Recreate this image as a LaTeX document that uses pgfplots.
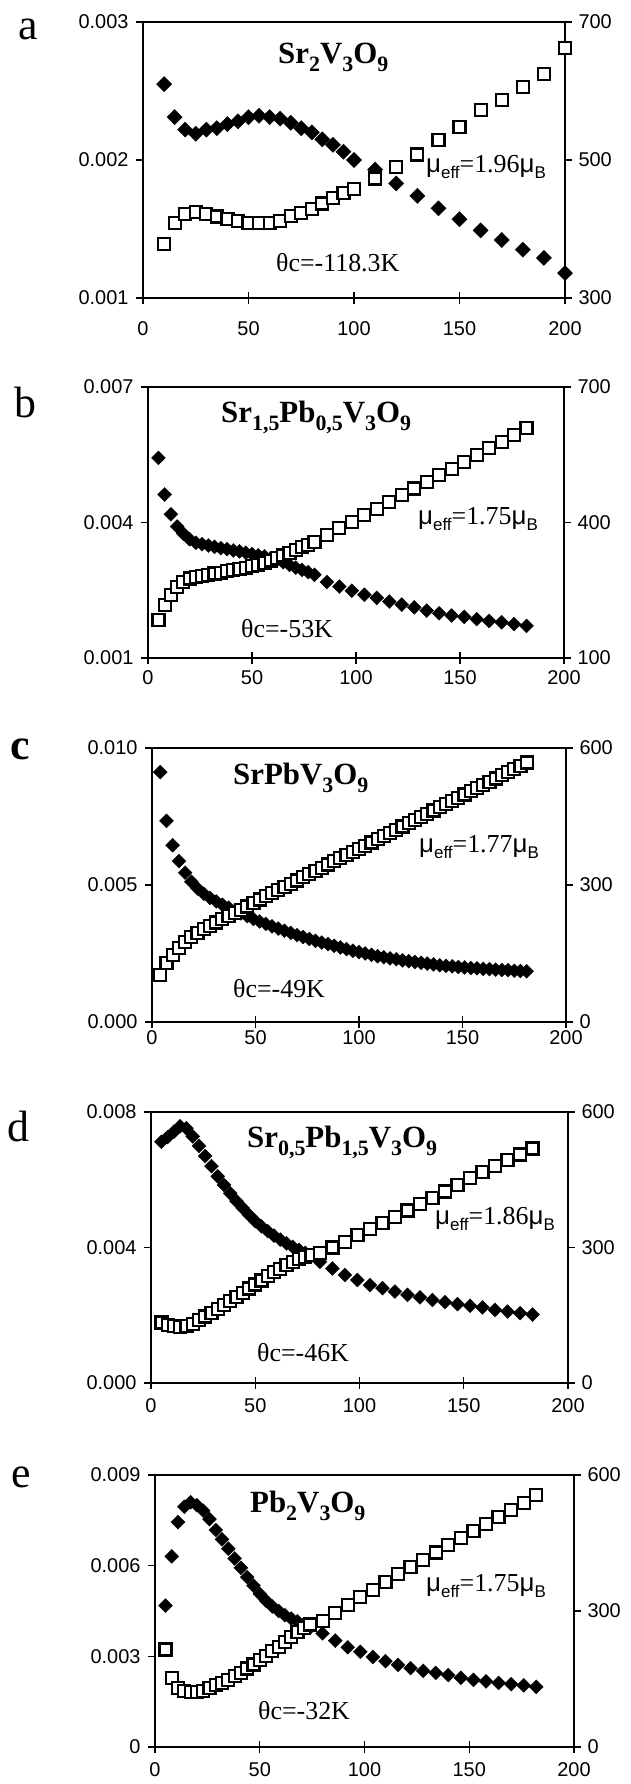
\documentclass[border=0pt]{standalone}
\usepackage{fontspec}
\setmainfont{Liberation Serif}
\newfontfamily\arial{Liberation Sans}
\usepackage{pgfplots}
\pgfplotsset{compat=1.18}

\pgfplotsset{
  panel/.style={scale only axis, clip=false, xmin=0, xmax=200,
    axis line style={line width=2.2bp, black},
    every tick/.style={line width=1.1bp, black},
    major tick length=7bp,
    tick align=outside,
    scaled y ticks=false, scaled x ticks=false,
    xtick={0,50,100,150,200}, xticklabels={0,50,100,150,200},
    tick label style={font=\arial\fontsize{20}{20}\selectfont},
    /pgf/number format/assume math mode=true,
  },
  leftax/.style={panel, xtick pos=bottom, ytick pos=left, xtick align=center,
    xtick style={/pgfplots/major tick length=12bp},
    yticklabel style={xshift=-4bp}},
  rightax/.style={panel, xtick=\empty, ytick pos=right, yticklabel pos=right,
    yticklabel style={xshift=3bp}},
  chi/.style={only marks, mark=square*, mark size=4.95bp,
    mark options={rotate=45, fill=black, draw=black, line width=0.3bp}},
  inv/.style={only marks, mark=square*, mark size=6bp,
    mark options={fill=white, draw=black, line width=2.2bp}},
}
\newcommand{\ttl}{\fontsize{31}{31}\selectfont\bfseries}
\newcommand{\sbb}[1]{\raisebox{-0.25em}{\fontsize{22}{22}\selectfont #1}}
\newcommand{\lab}{\fontsize{26}{26}\selectfont}
\newcommand{\mueff}[1]{{\lab{\arial μ}\raisebox{-0.22em}{\arial\fontsize{17}{17}\selectfont eff}=#1{\arial μ}\raisebox{-0.22em}{\arial\fontsize{17}{17}\selectfont B}}}
\newcommand{\panl}{\fontsize{44}{44}\selectfont}

\begin{document}
\begin{tikzpicture}[x=1bp,y=1bp]
\path[use as bounding box] (0,0) rectangle (631,1784);

% ---------------- panel a ----------------
\begin{axis}[leftax, at={(143bp,1486bp)}, anchor=south west, width=422bp, height=276bp,
  ymin=0.001, ymax=0.003, ytick={0.001,0.002,0.003}, yticklabels={0.001,0.002,0.003},
  xticklabel style={yshift=-17bp}]
\addplot[chi, mark size=5.4bp] coordinates {
(10,0.00255)(15,0.00231)(20,0.00222)(25,0.00219)(30,0.00222)(35,0.00223)(40,0.00226)
(45,0.00228)(50,0.00231)(55,0.00232)(60,0.00231)(65,0.00230)(70,0.00227)(75,0.00223)
(80,0.00220)(85,0.00215)(90,0.00211)(95,0.00206)(100,0.00200)(110,0.00193)(120,0.00183)
(130,0.00174)(140,0.00165)(150,0.00157)(160,0.00149)(170,0.00142)(180,0.00135)
(190,0.00129)(200,0.00118)};
\end{axis}
\begin{axis}[rightax, at={(143bp,1486bp)}, anchor=south west, width=422bp, height=276bp,
  ymin=300, ymax=700, ytick={300,500,700}, yticklabels={300,500,700}]
\addplot[inv] coordinates {
(10,378)(15,409)(20,422)(25,425)(30,422)(35,418)(40,414)(45,412)(50,409)(55,409)
(60,409)(65,412)(70,419)(75,423)(80,429)(85,437)(90,445)(95,452)(100,458)(110,473)
(120,490)(130,508)(140,529)(150,548)(160,572)(170,587)(180,606)(190,625)(200,662)};
\end{axis}

% ---------------- panel b ----------------
\begin{axis}[leftax, at={(148bp,1126bp)}, anchor=south west, width=416bp, height=271bp,
  ymin=0.001, ymax=0.007, ytick={0.001,0.004,0.007}, yticklabels={0.001,0.004,0.007},
  xticklabel style={yshift=-6bp}]
\addplot[chi] coordinates {
(5,0.00543)(8,0.00462)(11,0.00418)(14,0.00391)(17,0.00375)(20,0.00363)(23,0.00355)
(26,0.00352)(29,0.00349)(32,0.00346)(35,0.00343)(38,0.00341)(41,0.00338)(44,0.00336)
(47,0.00333)(50,0.00330)(53,0.00327)(56,0.00325)(59,0.00321)(62,0.00317)(65,0.00312)
(68,0.00306)(71,0.00300)(74,0.00295)(77,0.00290)
(80,0.00284)(86,0.00268)(92,0.00258)(98,0.00249)(104,0.00240)(110,0.00233)(116,0.00225)
(122,0.00218)(128,0.00212)(134,0.00205)(140,0.00199)(146,0.00194)(152,0.00191)
(158,0.00186)(164,0.00182)(170,0.00179)(176,0.00175)(182,0.00171)};
\end{axis}
\begin{axis}[rightax, at={(148bp,1126bp)}, anchor=south west, width=416bp, height=271bp,
  ymin=100, ymax=700, ytick={100,400,700}, yticklabels={100,400,700}]
\addplot[inv] coordinates {
(5,184)(8,217)(11,239)(14,257)(17,268)(20,276)(23,279)(26,281)(29,284)(32,287)(35,289)
(38,292)(41,294)(44,297)(47,300)(50,303)(53,306)(56,311)(59,316)(62,321)(65,327)(68,333)
(71,339)(74,345)(77,351)
(80,357)(86,372)(92,387)(98,401)(104,416)(110,430)(116,445)(122,460)(128,475)(134,490)
(140,505)(146,519)(152,534)(158,549)(164,564)(170,579)(176,594)(182,609)};
\end{axis}

% ---------------- panel c ----------------
\begin{axis}[leftax, at={(152bp,762bp)}, anchor=south west, width=414bp, height=274bp,
  ymin=0, ymax=0.010, ytick={0,0.005,0.010}, yticklabels={0.000,0.005,0.010},
  xticklabel style={yshift=-2bp}]
\addplot[chi] coordinates {
(4,0.00912)(7,0.00734)(10,0.00645)(13,0.00587)(16,0.00545)(19,0.00512)(22,0.00487)
(25,0.00468)(28,0.00453)(31,0.00440)(34,0.00428)(37,0.00417)(40,0.00406)(43,0.00396)
(46,0.00386)(49,0.00376)(52,0.00367)(55,0.00358)(58,0.00349)(61,0.00341)(64,0.00333)
(67,0.00325)(70,0.00317)(73,0.00310)(76,0.00303)(79,0.00296)(82,0.00290)(85,0.00284)
(88,0.00278)(91,0.00272)(94,0.00266)(97,0.00260)(100,0.00255)(103,0.00250)(106,0.00245)
(109,0.00240)(112,0.00236)(115,0.00232)(118,0.00229)(121,0.00225)(124,0.00222)
(127,0.00219)(130,0.00216)(133,0.00213)(136,0.00210)(139,0.00207)(142,0.00205)
(145,0.00203)(148,0.00201)(151,0.00199)(154,0.00197)(157,0.00196)(160,0.00194)
(163,0.00193)(166,0.00191)(169,0.00190)(172,0.00189)(175,0.00187)(178,0.00186)
(181,0.00185)};
\end{axis}
\begin{axis}[rightax, at={(152bp,762bp)}, anchor=south west, width=414bp, height=274bp,
  ymin=0, ymax=600, ytick={0,300,600}, yticklabels={0,300,600}]
\addplot[inv] coordinates {
(4,103)(7,129)(10,147)(13,162)(16,175)(19,186)(22,195)(25,203)(28,211)(31,218)(34,225)
(37,232)(40,239)(43,246)(46,253)(49,261)(52,268)(55,275)(58,282)(61,289)(64,296)
(67,303)(70,310)(73,317)(76,324)(79,331)(82,338)(85,345)(88,352)(91,359)(94,366)
(97,372)(100,379)(103,386)(106,393)(109,400)(112,407)(115,414)(118,421)(121,428)
(124,435)(127,442)(130,449)(133,456)(136,463)(139,470)(142,477)(145,484)(148,491)
(151,498)(154,505)(157,512)(160,519)(163,526)(166,533)(169,540)(172,547)(175,554)
(178,561)(181,568)};
\end{axis}

% ---------------- panel d ----------------
\begin{axis}[leftax, at={(151bp,401bp)}, anchor=south west, width=417bp, height=271bp,
  ymin=0, ymax=0.008, ytick={0,0.004,0.008}, yticklabels={0.000,0.004,0.008},
  xticklabel style={yshift=-9bp}]
\addplot[chi] coordinates {
(5,0.00712)(8,0.00726)(11,0.00742)(14,0.00758)(17,0.00752)(20,0.00728)(23,0.00700)
(26,0.00670)(29,0.00640)(32,0.00610)(35,0.00585)(38,0.00560)(41,0.00537)(44,0.00516)
(47,0.00496)(50,0.00478)(53,0.00462)(56,0.00448)(59,0.00435)(62,0.00423)(65,0.00412)
(68,0.00402)(71,0.00393)(74,0.00384)(77,0.00376)
(81,0.00358)(87,0.00338)(93,0.00319)(99,0.00304)(105,0.00289)(111,0.00280)(117,0.00270)
(123,0.00260)(129,0.00253)(135,0.00245)(141,0.00239)(147,0.00233)(153,0.00228)
(159,0.00223)(165,0.00216)(171,0.00211)(177,0.00206)(183,0.00202)};
\end{axis}
\begin{axis}[rightax, at={(151bp,401bp)}, anchor=south west, width=417bp, height=271bp,
  ymin=0, ymax=600, ytick={0,300,600}, yticklabels={0,300,600}]
\addplot[inv] coordinates {
(5,134)(8,129)(11,126)(14,124)(17,126)(20,131)(23,139)(26,147)(29,155)(32,163)(35,172)
(38,181)(41,191)(44,200)(47,209)(50,218)(53,227)(56,236)(59,245)(62,253)(65,261)
(68,268)(71,274)(74,279)(77,283)
(81,287)(87,300)(93,313)(99,327)(105,341)(111,355)(117,368)(123,382)(129,396)(135,410)
(141,424)(147,438)(153,453)(159,467)(165,481)(171,493)(177,506)(183,519)};
\end{axis}

% ---------------- panel e ----------------
\begin{axis}[leftax, at={(155bp,37bp)}, anchor=south west, width=419bp, height=272bp,
  ymin=0, ymax=0.009, ytick={0,0.003,0.006,0.009}, yticklabels={0,0.003,0.006,0.009},
  xticklabel style={yshift=-9bp}]
\addplot[chi] coordinates {
(5,0.00468)(8,0.00631)(11,0.00744)(14,0.00795)(17,0.00810)(20,0.00800)(23,0.00782)
(26,0.00754)(29,0.00718)(32,0.00687)(35,0.00656)(38,0.00624)(41,0.00593)(44,0.00562)
(47,0.00534)(50,0.00507)(53,0.00484)(56,0.00465)(59,0.00450)(62,0.00436)(65,0.00425)
(68,0.00416)(71,0.00406)(74,0.00395)
(80,0.00376)(86,0.00352)(92,0.00330)(98,0.00315)(104,0.00298)(110,0.00284)(116,0.00272)
(122,0.00261)(128,0.00252)(134,0.00245)(140,0.00238)(146,0.00229)(152,0.00222)
(158,0.00217)(164,0.00212)(170,0.00208)(176,0.00204)(182,0.00199)};
\end{axis}
\begin{axis}[rightax, at={(155bp,37bp)}, anchor=south west, width=419bp, height=272bp,
  ymin=0, ymax=600, ytick={0,300,600}, yticklabels={0,300,600}]
\addplot[inv] coordinates {
(5,215)(8,152)(11,131)(14,124)(17,121)(20,121)(23,124)(26,130)(29,136)(32,141)(35,148)
(38,156)(41,164)(44,173)(47,182)(50,192)(53,201)(56,211)(59,220)(62,232)(65,243)
(68,253)(71,262)(74,270)
(80,278)(86,296)(92,313)(98,330)(104,347)(110,364)(116,381)(122,397)(128,413)(134,429)
(140,445)(146,461)(152,476)(158,492)(164,508)(170,523)(176,539)(182,555)};
\end{axis}

% ---------------- texts ----------------
\node[anchor=base, inner sep=0] at (28,1744) {\panl a};
\node[anchor=base, inner sep=0] at (25,1366) {\panl b};
\node[anchor=base, inner sep=0] at (20,1024) {\panl\bfseries c};
\node[anchor=base, inner sep=0] at (18,642) {\panl d};
\node[anchor=base, inner sep=0] at (21,296) {\panl e};

\node[anchor=base west, inner sep=0] at (278,1720) {\ttl Sr\sbb{2}V\sbb{3}O\sbb{9}};
\node[anchor=base west, inner sep=0] at (221,1361) {\ttl Sr\sbb{1,5}Pb\sbb{0,5}V\sbb{3}O\sbb{9}};
\node[anchor=base west, inner sep=0] at (233,999) {\ttl SrPbV\sbb{3}O\sbb{9}};
\node[anchor=base west, inner sep=0] at (247,636) {\ttl Sr\sbb{0,5}Pb\sbb{1,5}V\sbb{3}O\sbb{9}};
\node[anchor=base west, inner sep=0] at (250,271) {\ttl Pb\sbb{2}V\sbb{3}O\sbb{9}};

\node[anchor=base east, inner sep=0] at (546,1611) {\mueff{1.96}};
\node[anchor=base east, inner sep=0] at (538,1259) {\mueff{1.75}};
\node[anchor=base east, inner sep=0] at (539,931) {\mueff{1.77}};
\node[anchor=base east, inner sep=0] at (555,559) {\mueff{1.86}};
\node[anchor=base east, inner sep=0] at (546,192) {\mueff{1.75}};

\node[anchor=base west, inner sep=0] at (276,1512) {\lab θc=-118.3K};
\node[anchor=base west, inner sep=0] at (241,1146) {\lab θc=-53K};
\node[anchor=base west, inner sep=0] at (233,786) {\lab θc=-49K};
\node[anchor=base west, inner sep=0] at (257,422) {\lab θc=-46K};
\node[anchor=base west, inner sep=0] at (258,64) {\lab θc=-32K};
\end{tikzpicture}
\end{document}
